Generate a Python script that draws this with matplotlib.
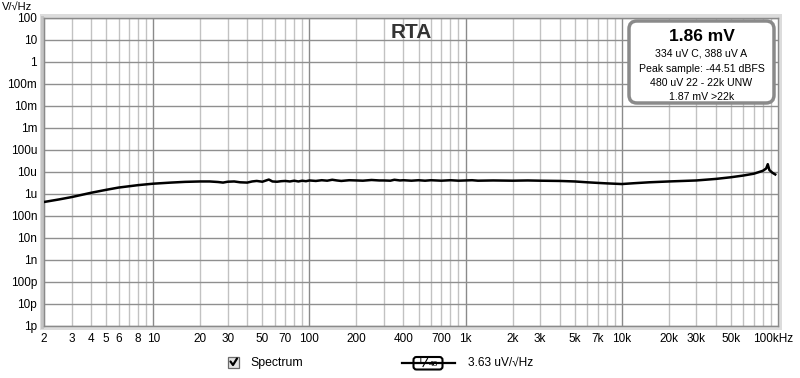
import matplotlib
matplotlib.use("Agg")
import matplotlib.pyplot as plt
import matplotlib.transforms as mtransforms
from matplotlib.patches import Rectangle, FancyBboxPatch
from matplotlib.lines import Line2D
from matplotlib.ticker import FixedLocator, NullFormatter

plt.rcParams['font.family'] = ['Liberation Sans', 'DejaVu Sans']

# ---- data ----
freq_hz = [2, 2.5, 3, 4, 5, 6, 8, 10, 13, 16, 20, 23, 26, 28, 30, 33, 36, 40, 43, 46,
           50, 55, 58, 62, 66, 70, 75, 80, 85, 90, 95, 100, 110, 120, 130, 140, 150, 160,
           180, 200, 220, 250, 280, 300, 330, 350, 380, 400, 450, 500, 550, 600, 700, 800,
           900, 1000, 1100, 1200, 1500, 2000, 2500, 3000, 4000, 5000, 6000, 7000, 8000,
           10000, 12000, 15000, 20000, 30000, 40000, 50000, 60000, 70000, 80000, 84000,
           86000, 88000, 92000, 96000]
level_uv = [0.42, 0.55, 0.70, 1.1, 1.5, 1.9, 2.45, 2.85, 3.2, 3.45, 3.6, 3.6, 3.4, 3.2, 3.5,
            3.6, 3.3, 3.2, 3.6, 3.8, 3.5, 4.4, 3.6, 3.5, 3.7, 3.8, 3.6, 3.9, 3.6, 3.9, 3.7,
            4.0, 3.8, 4.1, 3.9, 4.3, 4.0, 3.8, 4.1, 4.0, 3.9, 4.2, 4.0, 4.0, 3.9, 4.3, 4.0,
            4.1, 3.9, 4.1, 3.9, 4.1, 3.9, 4.1, 3.9, 4.0, 4.1, 3.9, 4.0, 3.9, 4.0, 3.9, 3.8,
            3.6, 3.3, 3.1, 2.95, 2.75, 3.0, 3.3, 3.6, 4.0, 4.7, 5.6, 6.7, 8.1, 11, 14, 22, 12,
            9, 7.5]

x_ticks = [2, 3, 4, 5, 6, 8, 10, 20, 30, 50, 70, 100, 200, 400, 700, 1000, 2000, 3000,
           5000, 7000, 10000, 20000, 30000, 50000, 100000]
x_labels = ['2', '3', '4', '5', '6', '8', '10', '20', '30', '50', '70', '100', '200', '400',
            '700', '1k', '2k', '3k', '5k', '7k', '10k', '20k', '30k', '50k', '100kHz']
y_ticks = [1e-12, 1e-11, 1e-10, 1e-9, 1e-8, 1e-7, 1e-6, 1e-5, 1e-4, 1e-3, 1e-2, 1e-1, 1, 10, 100]
y_labels = ['1p', '10p', '100p', '1n', '10n', '100n', '1u', '10u', '100u', '1m', '10m',
            '100m', '1', '10', '100']

title = 'RTA'
y_unit = 'V/\u221aHz'
info_main = '1.86 mV'
info_lines = ['334 uV C, 388 uV A', 'Peak sample: -44.51 dBFS', '480 uV 22 - 22k UNW',
              '1.87 mV >22k']
legend_name = 'Spectrum'
legend_smooth = '1/48'
legend_value = '3.63 uV/\u221aHz'

W, H = 800, 378
fig = plt.figure(figsize=(W / 100, H / 100), dpi=100)
fig.patch.set_facecolor('white')

L, R, T, B = 44, 778, 17.7, 325.7
ax = fig.add_axes([L / W, 1 - B / H, (R - L) / W, (B - T) / H])
ax.set_xscale('log')
ax.set_yscale('log')
ax.set_xlim(2, 100000)
ax.set_ylim(1e-12, 100)

# grid
minor_x = []
dec = 1
while dec < 100000:
    for m in range(1, 10):
        v = m * dec
        if 2 <= v <= 100000:
            minor_x.append(v)
    dec *= 10
for v in minor_x:
    is_major = v in (10, 100, 1000, 10000)
    ax.axvline(v, color='#8a8a8a' if is_major else '#c2c2c2', lw=1.0, zorder=1)
for v in y_ticks:
    ax.axhline(v, color='#8f8f8f', lw=1.0, zorder=1)

vals = [u * 1e-6 for u in level_uv]
ax.plot(freq_hz, vals, color='black', lw=1.8, zorder=3, solid_joinstyle='round')

ax.xaxis.set_major_locator(FixedLocator(x_ticks))
ax.set_xticklabels(x_labels)
ax.xaxis.set_minor_formatter(NullFormatter())
ax.yaxis.set_major_locator(FixedLocator(y_ticks))
ax.set_yticklabels(y_labels)
ax.yaxis.set_minor_locator(FixedLocator([]))
ax.xaxis.set_minor_locator(FixedLocator([]))
ax.tick_params(axis='both', length=0, labelsize=8.5, colors='black')
ax.tick_params(axis='y', pad=5)
ax.tick_params(axis='x', pad=5)
last = ax.get_xticklabels()[-1]
last.set_transform(last.get_transform() +
                   mtransforms.ScaledTranslation(-5 / 100, 0, fig.dpi_scale_trans))
for s in ax.spines.values():
    s.set_color('#8a8a8a')
    s.set_linewidth(1.0)

# overlay for decorations in pixel coordinates
ov = fig.add_axes([0, 0, 1, 1], zorder=-1)
ov.set_xlim(0, W)
ov.set_ylim(H, 0)
ov.axis('off')
ov.add_patch(Rectangle((40, 14), 742, 316, facecolor='#dcdcdc', edgecolor='none'))
ov.add_patch(Rectangle((41, 15.5), 3, 313, facecolor='#c4c4c4', edgecolor='none'))

top = fig.add_axes([0, 0, 1, 1], zorder=5)
top.set_xlim(0, W)
top.set_ylim(H, 0)
top.axis('off')
top.patch.set_alpha(0)

top.text(2, 6.5, y_unit, fontsize=8, ha='left', va='center')
top.text(411, 33, title, fontsize=15, fontweight='bold', color='#333333', ha='center', va='center')

# info box
top.add_patch(FancyBboxPatch((629, 21), 145, 82, boxstyle='round,pad=0,rounding_size=8',
                             facecolor='white', edgecolor='#8a8a8a', lw=2.5))
cx = 701.5
top.text(cx, 36.5, info_main, fontsize=12.5, fontweight='bold', ha='center', va='center')
ys = [54, 69, 83, 97.5]
for yy, t in zip(ys, info_lines):
    top.text(cx, yy, t, fontsize=7.6, ha='center', va='center')

# legend
top.add_patch(Rectangle((228, 356.5), 11, 11, facecolor='#e4e4e4', edgecolor='#6a6a6a', lw=0.9))
top.add_line(Line2D([230.5, 233, 237], [361.5, 365, 358.5], color='black', lw=1.6,
                    solid_capstyle='round', solid_joinstyle='round'))
top.text(250, 363, legend_name, fontsize=8.8, ha='left', va='center')
top.add_line(Line2D([402, 455], [363, 363], color='black', lw=1.6))
top.add_patch(FancyBboxPatch((413.5, 357), 29, 12.5, boxstyle='round,pad=0,rounding_size=3',
                             facecolor='white', edgecolor='black', lw=1.5))
num, den = legend_smooth.split('/')
top.text(420.5, 361.5, num, fontsize=7, ha='center', va='center')
top.add_line(Line2D([423, 427.5], [366.5, 358.5], color='black', lw=0.8))
top.text(433.5, 364.5, den, fontsize=6, ha='center', va='center')
top.text(468, 363, legend_value, fontsize=8.6, ha='left', va='center')

fig.savefig('out.png', dpi=100)
